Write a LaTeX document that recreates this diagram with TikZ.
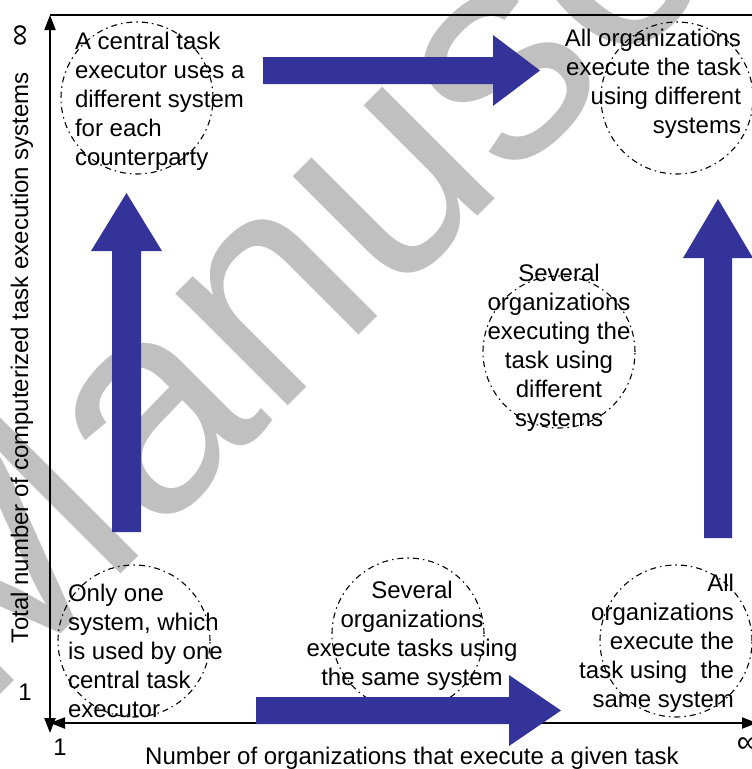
\documentclass[tikz,border=0pt]{standalone}
\usepackage{fontspec}
\setmainfont{Liberation Sans}
\usetikzlibrary{arrows.meta}
\definecolor{arrowblue}{RGB}{51,51,153}
\definecolor{wmgray}{RGB}{192,192,192}
\begin{document}
\begin{tikzpicture}[x=1pt,y=-1pt,
  lbl/.style={inner sep=0pt, outer sep=0pt, font=\fontsize{24}{29}\selectfont},
  inf/.style={inner sep=0pt, outer sep=0pt, font=\fontsize{31}{31}\selectfont},
  zone/.style={circle, draw, line width=1.1pt, dash pattern=on 6pt off 4pt on 1.5pt off 4pt, minimum size=152pt, inner sep=0pt},
  axis/.style={line width=2pt, {Triangle[length=15pt,width=11pt]}-{Triangle[length=15pt,width=11pt]}},
  blockarrow/.style={fill=arrowblue}]
\useasboundingbox (0,0) rectangle (752,769);
\clip (0,0) rectangle (752,769);
% watermark
\node[rotate=45, anchor=base west, inner sep=0pt, outer sep=0pt, text=wmgray, font=\fontsize{300}{300}\selectfont] (wm) at (-21,715) {Manuscript};
% axes
\coordinate (ytop) at (50,15);
\coordinate (ybot) at (50,733);
\coordinate (xleft) at (50,723);
\coordinate (xright) at (757,723);
\coordinate (topend) at (752,15);
\draw[axis] (ybot) -- (ytop);
\draw[axis] (xleft) -- (xright);
\draw[line width=2pt] (ytop) -- (topend);
% circles
\node[zone] (c1) at (137,98) {};
\node[zone] (c2) at (677,98) {};
\node[zone] (c3) at (559,352) {};
\node[zone] (c4) at (134,641) {};
\node[zone] (c5) at (408,634) {};
\node[zone] (c6) at (676,641) {};
% block arrows
\fill[blockarrow] (263,57) -- (493,57) -- (493,35) -- (540,70.5) -- (493,106) -- (493,84) -- (263,84) -- cycle;
\fill[blockarrow] (112,532) -- (112,251) -- (91,251) -- (126.5,193) -- (162,251) -- (141,251) -- (141,532) -- cycle;
\fill[blockarrow] (704,538) -- (704,258) -- (683,258) -- (718,199) -- (753,258) -- (732,258) -- (732,538) -- cycle;
\fill[blockarrow] (256,697) -- (509,697) -- (509,675) -- (561,710.5) -- (509,746) -- (509,724) -- (256,724) -- cycle;
% texts
\node[lbl, anchor=north west, align=left] (t1) at (75,32.5) {A central task\\executor uses a\\different system\\for each\\counterparty};
\node[lbl, anchor=north east, align=right] (t2) at (741,29.5) {All organizations\\execute the task\\using different\\systems};
\node[lbl, anchor=north, align=center] (t3) at (559,264.5) {Several\\organizations\\executing the\\task using\\different\\systems};
\node[lbl, anchor=north west, align=left] (t4) at (68,584.5) {Only one\\system, which\\is used by one\\central task\\executor};
\node[lbl, anchor=north, align=center] (t5) at (412,581.5) {Several\\organizations\\execute tasks using\\the same system};
\node[lbl, anchor=north east, align=right] (t6) at (734,574.5) {All\\organizations\\execute the\\task using\ \ the\\same system};
% axis labels
\node[lbl, rotate=90, anchor=base west] (ytitle) at (28,643) {Total number of computerized task execution systems};
\node[lbl, anchor=base] (xtitle) at (412,764) {Number of organizations that execute a given task};
\node[lbl, anchor=base] (y1) at (25,700) {1};
\node[lbl, anchor=base] (x1) at (60,755) {1};
\node[inf, rotate=90] (yinf) at (22,35) {∞};
\node[inf] (xinf) at (748,745) {∞};
\end{tikzpicture}
\end{document}
